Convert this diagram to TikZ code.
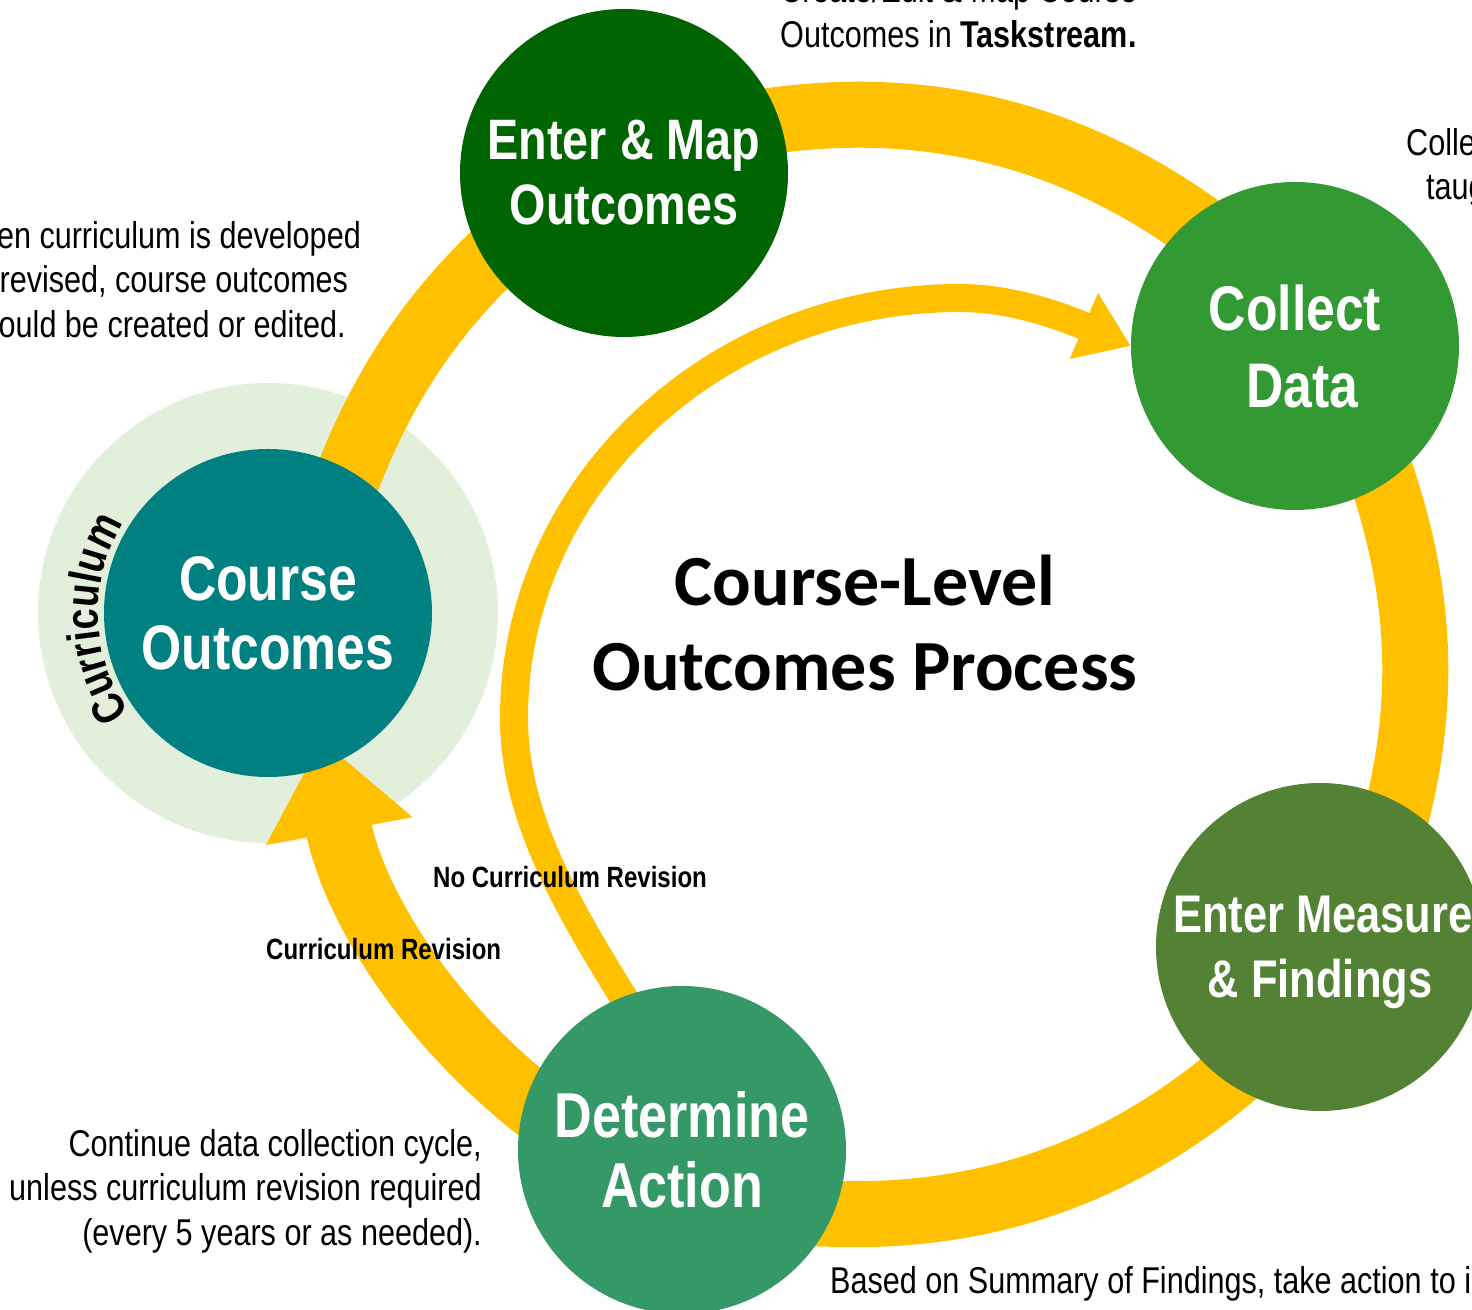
\documentclass[tikz,border=0pt]{standalone}
\usepackage{fontspec}
\setmainfont{Liberation Sans}[FakeStretch=0.82]
\newfontfamily\titlefont{Carlito}
\usetikzlibrary{arrows.meta,decorations.text}
\definecolor{ringyellow}{HTML}{FFC000}
\definecolor{mapgreen}{HTML}{006400}
\definecolor{collectgreen}{HTML}{339933}
\definecolor{measuregreen}{HTML}{548235}
\definecolor{actiongreen}{HTML}{349966}
\definecolor{courseteal}{HTML}{008080}
\definecolor{halogreen}{HTML}{E2EFDA}
\pgfdeclarelayer{halo}
\pgfdeclarelayer{flow}
\pgfsetlayers{halo,flow,main}

\begin{document}
\begin{tikzpicture}[x=1pt, y=1pt,
  stepnode/.style={circle, inner sep=0pt, minimum size=328pt, text=white, align=center},
  ring/.style={ringyellow, line width=66pt},
  note/.style={inner sep=0pt, font=\fontsize{37.3}{44.5}\selectfont},
  flowlabel/.style={inner sep=0pt, anchor=base west, font=\bfseries\fontsize{29.3}{34}\selectfont}]
\useasboundingbox (0,0) rectangle (1472,1309);

\node[stepnode, fill=courseteal, font=\bfseries\fontsize{63}{69}\selectfont] (Course) at (268,696) {Course\\Outcomes};
\node[stepnode, fill=mapgreen, font=\bfseries\fontsize{57}{65}\selectfont] (Map) at (624,1136) {Enter \& Map\\Outcomes};
\node[stepnode, fill=collectgreen, font=\bfseries\fontsize{63}{77}\selectfont] (Collect) at (1295,963) {Collect\\\hspace*{15pt}Data};
\node[stepnode, fill=measuregreen, text depth=0pt, font=\bfseries\fontsize{53}{65}\selectfont] (Measures) at (1320,362) {\makebox[0pt]{\hspace*{30pt}Enter Measures}\\\makebox[0pt]{\& Findings}};
\node[stepnode, fill=actiongreen, font=\bfseries\fontsize{63.5}{70}\selectfont] (Action) at (682,159) {Determine\\Action};

\begin{pgfonlayer}{halo}
\fill[halogreen] (Course) circle (230);
\end{pgfonlayer}

\begin{pgfonlayer}{flow}
\draw[ring, shorten <=-20pt, shorten >=-20pt] (Course.60) .. controls +(69.3:83.4) and +(223.4:83.4) .. (Map.213);
\draw[ring, shorten <=-20pt, shorten >=-20pt] (Map.19) .. controls +(8.8:146.5) and +(143.7:146.5) .. (Collect.130);
\draw[ring, shorten <=-20pt, shorten >=-20pt] (Collect.-57) .. controls +(-70.7:109.8) and +(75.3:109.8) .. (Measures.61);
\draw[ring, shorten <=-20pt, shorten >=-20pt] (Measures.235) .. controls +(-139.1:143.8) and +(-3.4:143.8) .. (Action.-23);
\draw[ring, shorten <=-20pt, shorten >=-27pt, -{Triangle[length=93pt, width=143pt]}] (Action.162) .. controls +(142.2:134.2) and +(-79.2:134.2) .. (Course.-69);
\draw[ringyellow, line width=28pt, shorten <=-15pt, -{Triangle[length=51pt, width=68pt]}] (Action.111) .. controls (569,399) and (514,491) .. (514,591) .. controls (514,823) and (714,1011) .. (960,1011) .. controls (1020,1011) and (1077,986) .. (Collect.180);
\end{pgfonlayer}

\path[decorate, decoration={text along path, text align=center, text={|\bfseries\fontsize{46}{46}\selectfont|Curriculum}}] ([shift={(232:170)}]Course.center) arc[start angle=232, end angle=132, radius=170];

\node[font=\titlefont\bfseries\fontsize{72}{85}\selectfont, align=center] (title) at (865,685.5) {Course-Level\\Outcomes Process};

\node[flowlabel] (noRevision) at (433,421) {No Curriculum Revision};
\node[flowlabel] (revision) at (266,349) {Curriculum Revision};

\node[note, anchor=south west, align=left] (taskNote) at (780,1261) {Create/Edit \& Map Course\\Outcomes in \textbf{Taskstream.}};
\node[note, anchor=north west, align=left] (collectNote) at (1406,1181) {Collect data from courses\\\hspace*{20pt}taught this term.};
\node[note, anchor=south, align=center] (curricNote) at (156,971) {When curriculum is developed\\or revised, course outcomes\\should be created or edited.};
\node[note, anchor=north east, align=right] (cycleNote) at (482,180) {Continue data collection cycle,\\unless curriculum revision required\\(every 5 years or as needed).};
\node[note, anchor=base west] (actionNote) at (830,16) {Based on Summary of Findings, take action to improve.};
\end{tikzpicture}
\end{document}
